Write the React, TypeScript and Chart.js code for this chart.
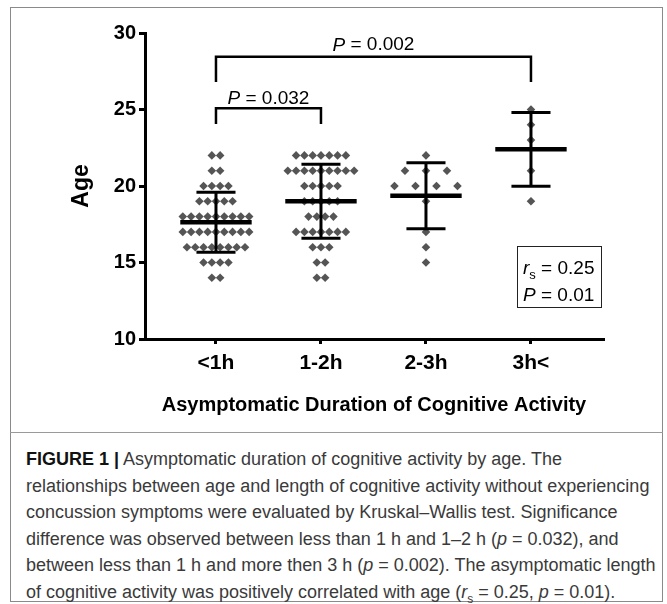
import React, { useEffect, useRef } from "react";
import { Chart, registerables } from "chart.js";

Chart.register(...registerables);

// ---- data ----
const categories = ["<1h", "1-2h", "2-3h", "3h<"];
const ageLevels = [25, 24, 23, 22, 21, 20, 19, 18, 17, 16, 15, 14];
// number of subjects at each age level, per group
const countsLt1h = [0, 0, 0, 2, 2, 4, 5, 9, 9, 8, 4, 2];
const counts1to2h = [0, 0, 0, 7, 9, 5, 5, 4, 7, 3, 2, 2];
const counts2to3h = [0, 0, 0, 1, 3, 4, 1, 0, 1, 1, 1, 0];
const counts3hPlus = [1, 1, 1, 0, 1, 0, 1, 0, 0, 0, 0, 0];
const groupMeans = [17.63, 19.0, 19.36, 22.4];
const groupSDs = [1.96, 2.42, 2.16, 2.41];
const yTicks = [10, 15, 20, 25, 30];
const pBracket1 = { from: 1, to: 2, label: "0.032" };
const pBracket2 = { from: 1, to: 4, label: "0.002" };
const rsValue = "0.25";
const rsP = "0.01";

const allCounts = [countsLt1h, counts1to2h, counts2to3h, counts3hPlus];

const FONT = "'Liberation Sans', Arial, Helvetica, sans-serif";
const spacing = [0.079, 0.079, 0.2, 0.2];

function buildPoints(counts: number[], center: number, sp: number) {
  const pts: { x: number; y: number }[] = [];
  counts.forEach((n, i) => {
    for (let k = 0; k < n; k++) {
      pts.push({ x: center + (k - (n - 1) / 2) * sp, y: ageLevels[i] });
    }
  });
  return pts;
}

function lineDs(data: { x: number; y: number }[], width: number) {
  return {
    type: "scatter" as const,
    data,
    showLine: true,
    borderColor: "#000",
    borderWidth: width,
    pointRadius: 0,
    borderCapStyle: "butt" as const,
    fill: false,
  };
}

const annotPlugin = {
  id: "annot",
  afterDatasetsDraw(chart: any) {
    const { ctx, scales } = chart;
    const xs = scales.x;
    const ys = scales.y;
    const drawP = (cx: number, cy: number, value: string, size: number) => {
      ctx.save();
      ctx.fillStyle = "#000";
      ctx.textBaseline = "middle";
      ctx.font = `italic ${size}px ${FONT}`;
      const wP = ctx.measureText("P").width;
      ctx.font = `${size}px ${FONT}`;
      const rest = " = " + value;
      const wR = ctx.measureText(rest).width;
      const left = cx - (wP + wR) / 2;
      ctx.font = `italic ${size}px ${FONT}`;
      ctx.fillText("P", left, cy);
      ctx.font = `${size}px ${FONT}`;
      ctx.fillText(rest, left + wP, cy);
      ctx.restore();
    };
    drawP(xs.getPixelForValue((pBracket2.from + pBracket2.to) / 2), ys.getPixelForValue(29.2), pBracket2.label, 19);
    drawP(xs.getPixelForValue((pBracket1.from + pBracket1.to) / 2), ys.getPixelForValue(25.73), pBracket1.label, 19);

    // correlation box
    const bx0 = xs.getPixelForValue(3.867);
    const bx1 = xs.getPixelForValue(4.667);
    const by0 = ys.getPixelForValue(16.08);
    const by1 = ys.getPixelForValue(12.09);
    ctx.save();
    ctx.strokeStyle = "#222";
    ctx.lineWidth = 1;
    ctx.strokeRect(Math.round(bx0) + 0.5, Math.round(by0) + 0.5, Math.round(bx1 - bx0), Math.round(by1 - by0));
    ctx.fillStyle = "#000";
    ctx.textBaseline = "alphabetic";
    const tx = bx0 + 6;
    const l1 = by0 + (by1 - by0) * 0.36;
    const l2 = by0 + (by1 - by0) * 0.8;
    ctx.font = `italic 19px ${FONT}`;
    ctx.fillText("r", tx, l1 + 6);
    const wr = ctx.measureText("r").width;
    ctx.font = `13px ${FONT}`;
    ctx.fillText("s", tx + wr, l1 + 11);
    const ws = ctx.measureText("s").width;
    ctx.font = `19px ${FONT}`;
    ctx.fillText(" = " + rsValue, tx + wr + ws, l1 + 6);
    ctx.font = `italic 19px ${FONT}`;
    ctx.fillText("P", tx, l2 + 6);
    const wp = ctx.measureText("P").width;
    ctx.font = `19px ${FONT}`;
    ctx.fillText(" = " + rsP, tx + wp, l2 + 6);
    ctx.restore();
  },
};

function ChartFigure() {
  const ref = useRef<HTMLCanvasElement | null>(null);
  useEffect(() => {
    if (!ref.current) return;
    const datasets: any[] = [];
    // mean and SD bars
    groupMeans.forEach((m, i) => {
      const c = i + 1;
      const s = groupSDs[i];
      datasets.push(lineDs([{ x: c - 0.34, y: m }, { x: c + 0.34, y: m }], 4.5));
      datasets.push(lineDs([{ x: c, y: m - s }, { x: c, y: m + s }], 3));
      datasets.push(lineDs([{ x: c - 0.186, y: m + s }, { x: c + 0.186, y: m + s }], 3));
      datasets.push(lineDs([{ x: c - 0.186, y: m - s }, { x: c + 0.186, y: m - s }], 3));
    });
    // significance brackets
    datasets.push(
      lineDs(
        [
          { x: pBracket2.from, y: 26.8 },
          { x: pBracket2.from, y: 28.45 },
          { x: pBracket2.to, y: 28.45 },
          { x: pBracket2.to, y: 26.8 },
        ],
        2.5
      )
    );
    datasets.push(
      lineDs(
        [
          { x: pBracket1.from, y: 24.05 },
          { x: pBracket1.from, y: 25.08 },
          { x: pBracket1.to, y: 25.08 },
          { x: pBracket1.to, y: 24.05 },
        ],
        2.5
      )
    );
    // dots
    allCounts.forEach((counts, i) => {
      datasets.push({
        type: "scatter",
        data: buildPoints(counts, i + 1, spacing[i]),
        pointStyle: "rectRot",
        pointRadius: 4.3,
        pointBackgroundColor: "#555555",
        pointBorderWidth: 0,
        showLine: false,
      });
    });

    const chart = new Chart(ref.current, {
      type: "scatter",
      data: { datasets },
      plugins: [annotPlugin],
      options: {
        animation: false,
        responsive: false,
        devicePixelRatio: 1,
        events: [],
        layout: { padding: { left: 0, top: 33, right: 64, bottom: 0 } },
        plugins: { legend: { display: false }, tooltip: { enabled: false } },
        scales: {
          x: {
            type: "linear",
            min: 0.324,
            max: 4.686,
            afterBuildTicks: (scale: any) => {
              scale.ticks = categories.map((_, i) => ({ value: i + 1 }));
            },
            afterFit: (scale: any) => {
              scale.height = 91;
            },
            border: { display: true, color: "#000", width: 3 },
            grid: {
              display: true,
              drawOnChartArea: false,
              drawTicks: true,
              tickLength: 5,
              color: "#000",
              lineWidth: 3,
            },
            ticks: {
              autoSkip: false,
              maxRotation: 0,
              padding: 7,
              color: "#000",
              font: { family: FONT, size: 21, weight: "bold" },
              callback: (v: any) => categories[Number(v) - 1] ?? "",
            },
            title: {
              display: true,
              text: "Asymptomatic Duration of Cognitive Activity",
              color: "#000",
              font: { family: FONT, size: 20, weight: "bold" },
              padding: { top: 0, bottom: 13 },
            },
          },
          y: {
            type: "linear",
            min: 10,
            max: 30,
            afterBuildTicks: (scale: any) => {
              scale.ticks = yTicks.map((v) => ({ value: v }));
            },
            afterFit: (scale: any) => {
              scale.width = 145;
            },
            border: { display: true, color: "#000", width: 3 },
            grid: {
              display: true,
              drawOnChartArea: false,
              drawTicks: true,
              tickLength: 6,
              color: "#000",
              lineWidth: 3,
            },
            ticks: {
              padding: 3,
              color: "#000",
              font: { family: FONT, size: 20, weight: "bold" },
            },
            title: {
              display: true,
              text: "Age",
              color: "#000",
              font: { family: FONT, size: 23, weight: "bold" },
              padding: { top: 68, bottom: 0 },
            },
          },
        },
      },
    } as any);
    return () => chart.destroy();
  }, []);
  return <canvas ref={ref} width={667} height={430} style={{ position: "absolute", left: 0, top: 0, width: 667, height: 430 }} />;
}

export default function App() {
  const capStyle: React.CSSProperties = {
    position: "absolute",
    left: 26,
    top: 446,
    fontFamily: "'Liberation Sans', Arial, Helvetica, sans-serif",
    fontSize: 18,
    lineHeight: "26.5px",
    color: "#3a3a3a",
    whiteSpace: "nowrap",
  };
  return (
    <div style={{ position: "absolute", left: 0, top: 0, width: 667, height: 604, background: "#fff", overflow: "hidden" }}>
      <div
        style={{
          position: "absolute",
          left: 10,
          top: 7,
          width: 653,
          height: 595,
          border: "1.5px solid #8a8a8a",
          boxSizing: "border-box",
        }}
      />
      <div style={{ position: "absolute", left: 10, top: 432, width: 653, height: 0, borderTop: "1px solid #9a9a9a" }} />
      <ChartFigure />
      <div style={capStyle}>
        <b style={{ color: "#111" }}>FIGURE 1 |</b> Asymptomatic duration of cognitive activity by age. The
        <br />
        relationships between age and length of cognitive activity without experiencing
        <br />
        concussion symptoms were evaluated by Kruskal–Wallis test. Significance
        <br />
        difference was observed between less than 1 h and 1–2 h (<i>p</i> = 0.032), and
        <br />
        between less than 1 h and more then 3 h (<i>p</i> = 0.002). The asymptomatic length
        <br />
        of cognitive activity was positively correlated with age (<i>r</i>
        <sub style={{ fontSize: 12, lineHeight: 0 }}>s</sub> = 0.25, <i>p</i> = 0.01).
      </div>
    </div>
  );
}
